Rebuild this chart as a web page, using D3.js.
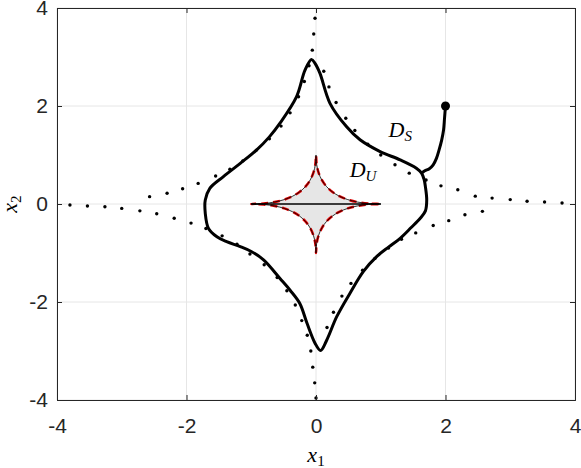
<!DOCTYPE html>
<html>
<head>
<meta charset="utf-8">
<script src="https://cdn.jsdelivr.net/npm/d3@7"></script>
<style>
  body { margin: 0; background: #fff; }
  .tick text { font-family: "Liberation Sans", Arial, sans-serif; }
  .tex { font-family: "Liberation Serif", "DejaVu Serif", serif; font-style: italic; fill: #000; }
</style>
</head>
<body>
<div class="board"></div>
<script>
// ============================
// DATA
// ============================
var xTicks = [-4, -2, 0, 2, 4];
var yTicks = [-4, -2, 0, 2, 4];

// outer dotted boundary D_S, one array per branch (sample markers)
var dotsUpperLeft = [
  [-0.015, 3.79], [-0.035, 3.47], [-0.057, 3.14], [-0.108, 2.82], [-0.18, 2.50],
  [-0.27, 2.19], [-0.40, 1.86], [-0.54, 1.59], [-0.72, 1.33], [-0.92, 1.10],
  [-1.13, 0.88], [-1.33, 0.71], [-1.55, 0.57], [-1.82, 0.42], [-2.06, 0.31],
  [-2.30, 0.22], [-2.57, 0.15]
];
var dotsLowerLeft = [
  [-3.80, -0.02], [-3.53, -0.04], [-3.26, -0.055], [-3.00, -0.09], [-2.72, -0.14],
  [-2.46, -0.20], [-2.19, -0.29], [-1.93, -0.39], [-1.70, -0.50], [-1.45, -0.65],
  [-1.22, -0.82], [-1.02, -1.02], [-0.80, -1.24], [-0.60, -1.50], [-0.45, -1.77],
  [-0.32, -2.06], [-0.22, -2.38], [-0.135, -2.68], [-0.08, -3.00], [-0.05, -3.33],
  [-0.02, -3.65], [0.0, -3.96]
];
var dotsLowerRight = [
  [0.17, -2.52], [0.27, -2.21], [0.40, -1.88], [0.54, -1.62], [0.72, -1.35],
  [0.91, -1.11], [1.12, -0.90], [1.32, -0.72], [1.54, -0.59], [1.81, -0.44],
  [2.05, -0.34], [2.30, -0.22], [2.57, -0.15]
];
var dotsUpperRight = [
  [3.80, 0.02], [3.53, 0.04], [3.26, 0.055], [3.00, 0.09], [2.72, 0.12],
  [2.46, 0.16], [2.19, 0.29], [1.93, 0.37], [1.70, 0.49], [1.44, 0.63],
  [1.22, 0.80], [1.00, 1.00], [0.80, 1.22], [0.60, 1.50], [0.46, 1.75],
  [0.31, 2.07], [0.20, 2.39], [0.12, 2.71]
];

// inner shaded region D_U
var regionU = [
  [1, 0], [0.81, 0.01], [0.64, 0.04], [0.49, 0.09], [0.36, 0.16], [0.25, 0.25],
  [0.16, 0.36], [0.09, 0.49], [0.04, 0.64], [0.01, 0.81], [0, 1],
  [-0.01, 0.81], [-0.04, 0.64], [-0.09, 0.49], [-0.16, 0.36], [-0.25, 0.25],
  [-0.36, 0.16], [-0.49, 0.09], [-0.64, 0.04], [-0.81, 0.01], [-1, 0],
  [-0.81, -0.01], [-0.64, -0.04], [-0.49, -0.09], [-0.36, -0.16], [-0.25, -0.25],
  [-0.16, -0.36], [-0.09, -0.49], [-0.04, -0.64], [-0.01, -0.81], [0, -1],
  [0.01, -0.81], [0.04, -0.64], [0.09, -0.49], [0.16, -0.36], [0.25, -0.25],
  [0.36, -0.16], [0.49, -0.09], [0.64, -0.04], [0.81, -0.01]
];
var axisSegment = [[-1, 0], [1, 0]];

// closed orbit
var orbit = [
  [1.63, 0.63], [1.67, 0.50], [1.69, 0.35], [1.71, 0.08], [1.69, -0.14],
  [1.61, -0.29], [1.47, -0.48], [1.30, -0.70], [1.12, -0.88], [0.94, -1.07],
  [0.73, -1.38], [0.525, -1.82], [0.32, -2.30], [0.165, -2.78], [0.07, -2.99],
  [-0.015, -2.84], [-0.14, -2.43], [-0.25, -2.03], [-0.40, -1.76], [-0.556, -1.52],
  [-0.81, -1.14], [-1.00, -0.97], [-1.17, -0.87], [-1.38, -0.77], [-1.53, -0.67],
  [-1.66, -0.50], [-1.71, -0.19], [-1.71, 0.08], [-1.64, 0.32], [-1.43, 0.56],
  [-1.17, 0.83], [-0.92, 1.10], [-0.72, 1.37], [-0.556, 1.65], [-0.30, 2.19],
  [-0.17, 2.73], [-0.07, 2.95], [-0.015, 2.87], [0.06, 2.67], [0.216, 2.055],
  [0.47, 1.58], [0.68, 1.31], [0.99, 1.07], [1.30, 0.90], [1.55, 0.73]
];

// trajectory from the initial point
var trajectory = [
  [2.0, 2.0], [1.985, 1.75], [1.97, 1.51], [1.94, 1.30], [1.90, 1.10],
  [1.86, 0.93], [1.81, 0.80], [1.75, 0.72], [1.68, 0.68], [1.63, 0.63]
];
var startPoint = [2.0, 2.0];

var labels = [
  { text: 'D', sub: 'S', pos: [1.12, 1.37] },
  { text: 'D', sub: 'U', pos: [0.52, 0.55] }
];

// ============================
// CONTAINER
// ============================
var width = 581, height = 468;
var margin = { top: 8, right: 6, bottom: 68, left: 57 };

var svg = d3.select('.board').append('svg')
  .attr('width', width)
  .attr('height', height);

var x = d3.scaleLinear().domain([-4, 4]).range([margin.left, width - margin.right]);
var y = d3.scaleLinear().domain([-4, 4]).range([height - margin.bottom, margin.top]);

var straightLine = d3.line().x(d => x(d[0])).y(d => y(d[1]));
var loopLine = d3.line().x(d => x(d[0])).y(d => y(d[1])).curve(d3.curveCatmullRomClosed.alpha(0.5));
var openLine = d3.line().x(d => x(d[0])).y(d => y(d[1])).curve(d3.curveCatmullRom.alpha(0.5));

// grid
svg.append('g').selectAll('line')
  .data(xTicks).enter().append('line')
  .attr('x1', d => x(d)).attr('x2', d => x(d))
  .attr('y1', y(-4)).attr('y2', y(4))
  .attr('stroke', '#e6e6e6').attr('stroke-width', 1);
svg.append('g').selectAll('line')
  .data(yTicks).enter().append('line')
  .attr('y1', d => y(d)).attr('y2', d => y(d))
  .attr('x1', x(-4)).attr('x2', x(4))
  .attr('stroke', '#e6e6e6').attr('stroke-width', 1);

// clip to the axes box
svg.append('clipPath').attr('id', 'plotclip').append('rect')
  .attr('x', x(-4)).attr('y', y(4))
  .attr('width', x(4) - x(-4)).attr('height', y(-4) - y(4));
var plot = svg.append('g').attr('clip-path', 'url(#plotclip)');

// D_U shaded
plot.append('path')
  .datum(regionU)
  .attr('d', loopLine)
  .attr('fill', '#e6e6e6')
  .attr('stroke', 'none');
plot.append('path')
  .datum(regionU)
  .attr('d', loopLine)
  .attr('fill', 'none')
  .attr('stroke', '#e00000')
  .attr('stroke-width', 2.5)
  .attr('stroke-dasharray', '7 5');
plot.append('path')
  .datum(regionU)
  .attr('d', loopLine)
  .attr('fill', 'none')
  .attr('stroke', '#000')
  .attr('stroke-width', 0.8);
plot.append('path')
  .datum(axisSegment)
  .attr('d', straightLine)
  .attr('stroke', '#000')
  .attr('stroke-width', 1.3);

// D_S dotted boundary
var dotsS = dotsUpperLeft.concat(dotsLowerLeft, dotsLowerRight, dotsUpperRight);
plot.append('g').selectAll('circle')
  .data(dotsS).enter().append('circle')
  .attr('cx', d => x(d[0]))
  .attr('cy', d => y(d[1]))
  .attr('r', 1.7)
  .attr('fill', '#000');

// orbit + trajectory
plot.append('path')
  .datum(orbit)
  .attr('d', loopLine)
  .attr('fill', 'none')
  .attr('stroke', '#000')
  .attr('stroke-width', 3);
plot.append('path')
  .datum(trajectory)
  .attr('d', openLine)
  .attr('fill', 'none')
  .attr('stroke', '#000')
  .attr('stroke-width', 3);
plot.append('circle')
  .attr('cx', x(startPoint[0])).attr('cy', y(startPoint[1]))
  .attr('r', 4.5).attr('fill', '#000');

// region labels
labels.forEach(function(l) {
  var t = svg.append('text').attr('class', 'tex')
    .attr('x', x(l.pos[0])).attr('y', y(l.pos[1]))
    .style('font-size', '22px');
  t.append('tspan').text(l.text);
  t.append('tspan').text(l.sub).attr('dy', 4).style('font-size', '15px');
});

// axes
var axisColor = '#262626';
var fmt = function(d) { return String(d); };
var xAxis = svg.append('g')
  .attr('transform', 'translate(0,' + y(-4) + ')')
  .call(d3.axisBottom(x).tickValues(xTicks).tickSize(-5).tickPadding(18).tickFormat(fmt));
var xAxisTop = svg.append('g')
  .attr('transform', 'translate(0,' + y(4) + ')')
  .call(d3.axisTop(x).tickValues(xTicks).tickSize(-5).tickFormat(''));
var yAxis = svg.append('g')
  .attr('transform', 'translate(' + x(-4) + ',0)')
  .call(d3.axisLeft(y).tickValues(yTicks).tickSize(-5).tickPadding(9).tickFormat(fmt));
var yAxisRight = svg.append('g')
  .attr('transform', 'translate(' + x(4) + ',0)')
  .call(d3.axisRight(y).tickValues(yTicks).tickSize(-5).tickFormat(''));

[xAxis, xAxisTop, yAxis, yAxisRight].forEach(function(g) {
  g.select('.domain').attr('stroke', axisColor).attr('stroke-width', 1);
  g.selectAll('.tick line').attr('stroke', axisColor);
  g.selectAll('.tick text')
    .attr('fill', axisColor)
    .style('font-size', '21px');
});

// axis titles
var xl = svg.append('text').attr('class', 'tex')
  .attr('x', x(0)).attr('y', 462)
  .attr('text-anchor', 'middle')
  .style('font-size', '22px');
xl.append('tspan').text('x');
xl.append('tspan').text('1').attr('dy', 4).style('font-style', 'normal').style('font-size', '15px');

var yl = svg.append('text').attr('class', 'tex')
  .attr('transform', 'translate(17,' + y(0) + ') rotate(-90)')
  .attr('text-anchor', 'middle')
  .style('font-size', '22px');
yl.append('tspan').text('x');
yl.append('tspan').text('2').attr('dy', 4).style('font-style', 'normal').style('font-size', '15px');
</script>
</body>
</html>
